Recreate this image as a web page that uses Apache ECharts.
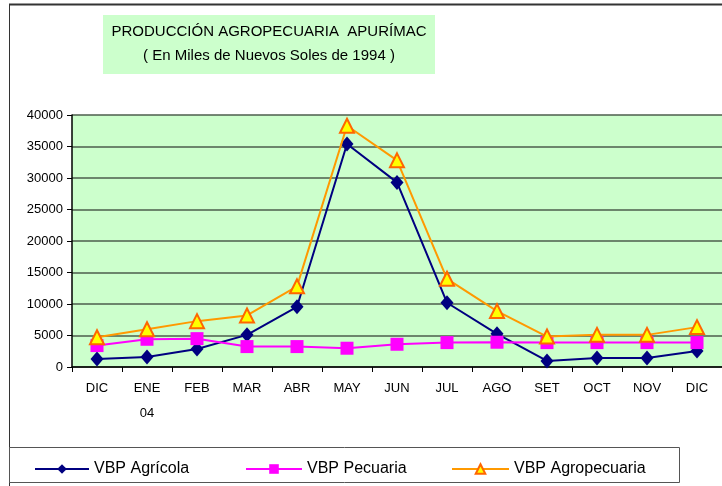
<!DOCTYPE html>
<html>
<head>
<meta charset="utf-8">
<script src="https://cdn.jsdelivr.net/npm/echarts@6/dist/echarts.min.js"></script>
<style>
  html, body { margin: 0; padding: 0; background: #fff; }
  #chart { width: 722px; height: 486px; }
</style>
</head>
<body>
<div id="chart"></div>
<script>
// meses (dic 2003 - dic 2004)
const months = ['DIC', 'ENE\n04', 'FEB', 'MAR', 'ABR', 'MAY', 'JUN', 'JUL', 'AGO', 'SET', 'OCT', 'NOV', 'DIC']
const agricola = [1270, 1600, 2870, 5100, 9560, 35400, 29300, 10200, 5260, 960, 1430, 1430, 2550]
const pecuaria = [3400, 4400, 4500, 3240, 3240, 2980, 3610, 3870, 3930, 3870, 3870, 3870, 3870]
const agropecuaria = [4730, 6000, 7280, 8180, 12800, 38300, 32800, 14000, 8870, 4830, 5100, 5100, 6330]

const chart = echarts.init(document.getElementById('chart'))

const font = 'Liberation Sans, Arial, sans-serif'
const legendText = { color: '#000', fontSize: 16, fontFamily: font }

const option = {
  backgroundColor: '#fff',
  animation: false,
  textStyle: { fontFamily: font },
  graphic: [
    // marco exterior
    { type: 'line', shape: { x1: 9, y1: 4.5, x2: 722, y2: 4.5 }, style: { stroke: '#333', lineWidth: 2 } },
    { type: 'line', shape: { x1: 9.5, y1: 4, x2: 9.5, y2: 486 }, style: { stroke: '#333', lineWidth: 1 } },
    // caja del título
    { type: 'rect', shape: { x: 103, y: 15, width: 332, height: 59 }, style: { fill: '#ccffcc' }, z: 0 },
    {
      type: 'text', x: 269, y: 32, z: 2,
      style: { text: 'PRODUCCIÓN AGROPECUARIA  APURÍMAC', textAlign: 'center', textVerticalAlign: 'middle', fill: '#000', fontSize: 15, fontFamily: font }
    },
    {
      type: 'text', x: 269, y: 56, z: 2,
      style: { text: '( En Miles de Nuevos Soles de 1994 )', textAlign: 'center', textVerticalAlign: 'middle', fill: '#000', fontSize: 15, fontFamily: font }
    },
    // caja de la leyenda
    { type: 'rect', shape: { x: 9.5, y: 447.5, width: 670, height: 35 }, style: { fill: '#fff', stroke: '#555', lineWidth: 1 }, z: 0 }
  ],
  legend: [
    { data: ['VBP Agrícola'], left: 29, top: 456, itemWidth: 54, itemHeight: 12, itemGap: 0, textStyle: legendText, z: 5 },
    { data: ['VBP Pecuaria'], left: 240, top: 456, itemWidth: 56, itemHeight: 12, itemGap: 0, textStyle: legendText, z: 5 },
    { data: ['VBP Agropecuaria'], left: 446, top: 456, itemWidth: 57, itemHeight: 12, itemGap: 0, textStyle: legendText, z: 5 }
  ],
  grid: { left: 72, right: -3, top: 115, bottom: 119, backgroundColor: '#ccffcc', show: true, borderWidth: 0 },
  xAxis: {
    type: 'category',
    data: months,
    boundaryGap: true,
    axisLine: { lineStyle: { color: '#000', width: 1.5 } },
    axisTick: { show: true, length: 5, lineStyle: { color: '#000' } },
    axisLabel: { color: '#000', fontSize: 13, margin: 9, lineHeight: 25, interval: 0 }
  },
  yAxis: {
    type: 'value',
    min: 0,
    max: 40000,
    interval: 5000,
    axisLine: { show: true, lineStyle: { color: '#000', width: 1.5 } },
    axisTick: { show: true, length: 5, lineStyle: { color: '#000' } },
    axisLabel: { color: '#000', fontSize: 13, margin: 9, formatter: (v) => String(v) },
    splitLine: { lineStyle: { color: '#4d5e4d', width: 1.5 } }
  },
  series: [
    {
      name: 'VBP Agrícola', type: 'line', data: agricola,
      symbol: 'diamond', symbolSize: [13, 15],
      lineStyle: { color: '#000080', width: 2 },
      itemStyle: { color: '#000080' },
      z: 3
    },
    {
      name: 'VBP Pecuaria', type: 'line', data: pecuaria,
      symbol: 'rect', symbolSize: 13,
      lineStyle: { color: '#ff00ff', width: 2 },
      itemStyle: { color: '#ff00ff' },
      z: 4
    },
    {
      name: 'VBP Agropecuaria', type: 'line', data: agropecuaria,
      symbol: 'triangle', symbolSize: 14,
      lineStyle: { color: '#ff9900', width: 2 },
      itemStyle: { color: '#ffff00', borderColor: '#ff6600', borderWidth: 2 },
      z: 5
    }
  ]
}

chart.setOption(option)
</script>
</body>
</html>
